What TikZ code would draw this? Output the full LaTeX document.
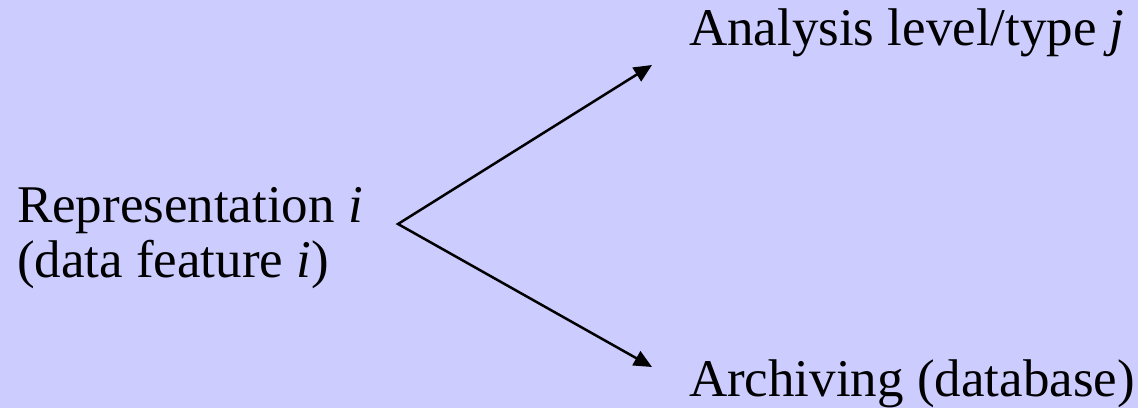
\documentclass[tikz,border=0pt]{standalone}
\usepackage{fontspec}
\setmainfont{Liberation Serif}
\usetikzlibrary{arrows.meta}
\definecolor{bgblue}{HTML}{CCCCFF}
\tikzset{
  lbl/.style={inner sep=0pt, outer sep=0pt, anchor=base west, align=left,
    font=\fontsize{53}{55}\selectfont, text=black},
  arr/.style={line width=2.5pt, line join=miter, {Triangle[length=18pt,width=16pt]}-{Triangle[length=18pt,width=16pt]}}
}
\begin{document}
\begin{tikzpicture}[x=1pt,y=-1pt]
\fill[bgblue] (0,0) rectangle (1138,408);
\useasboundingbox (0,0) rectangle (1138,408);
\node[lbl] (rep) at (17,277) {Representation \textit{i}\\(data feature \textit{i})};
\node[lbl] (ana) at (689,45) {Analysis level/type \textit{j}};
\node[lbl] (arc) at (689,396) {Archiving (database)};
\coordinate (v) at (398,224);
\coordinate (t1) at (652,65);
\coordinate (t2) at (652,367);
\draw[arr] (t1) -- (v) -- (t2);
\end{tikzpicture}
\end{document}
